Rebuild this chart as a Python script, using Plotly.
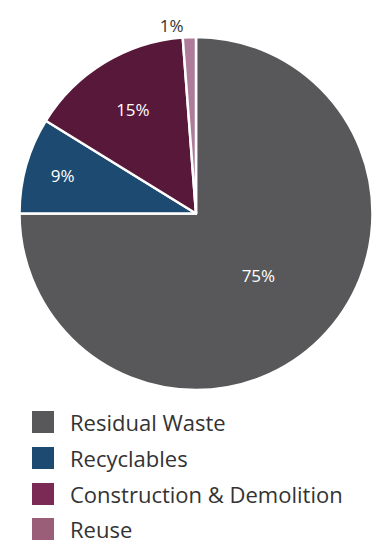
import plotly.graph_objects as go

labels = ["Residual Waste", "Recyclables", "Construction & Demolition", "Reuse"]
values = [75.0, 8.8, 15.0, 1.2]
pie_colors = ["#58585a", "#1c4a70", "#58183a", "#ae7b9a"]
legend_colors = ["#58585a", "#1c4a70", "#7a2a55", "#9a5e78"]
text_pos = ["inside", "inside", "inside", "outside"]

W, H = 377, 544
FONT = "'Open Sans', Lato, sans-serif"

fig = go.Figure()
fig.add_trace(go.Pie(
    labels=labels,
    values=values,
    sort=False,
    direction="clockwise",
    rotation=0,
    marker=dict(colors=pie_colors, line=dict(color="white", width=2.5)),
    texttemplate="%{percent:.0%}",
    textposition=text_pos,
    insidetextorientation="horizontal",
    insidetextfont=dict(color="white", size=17, family=FONT),
    outsidetextfont=dict(color="#333333", size=17, family=FONT),
    domain=dict(x=[19 / W, 373 / W], y=[1 - 390 / H, 1 - 37 / H]),
    showlegend=False,
    hoverinfo="label+percent",
    automargin=False,
))

# legend drawn by hand so the rows match the spacing of the original
row_y = [422, 458, 494, 529]
for name, col, yy in zip(labels, legend_colors, row_y):
    fig.add_shape(type="rect", xref="paper", yref="paper",
                  x0=32 / W, x1=54 / W, y0=1 - (yy + 11) / H, y1=1 - (yy - 11) / H,
                  fillcolor=col, line=dict(width=0))
    fig.add_annotation(x=68 / W, y=1 - yy / H, xref="paper", yref="paper",
                       text=name, showarrow=False, xanchor="left", yanchor="middle",
                       font=dict(size=22, color="#333333", family=FONT))

fig.update_layout(
    width=W,
    height=H,
    margin=dict(l=0, r=0, t=0, b=0),
    paper_bgcolor="white",
    plot_bgcolor="white",
)

fig.write_html("out.html", config={"displayModeBar": False},
               post_script="document.body.style.margin='0';document.body.style.overflow='hidden';")
